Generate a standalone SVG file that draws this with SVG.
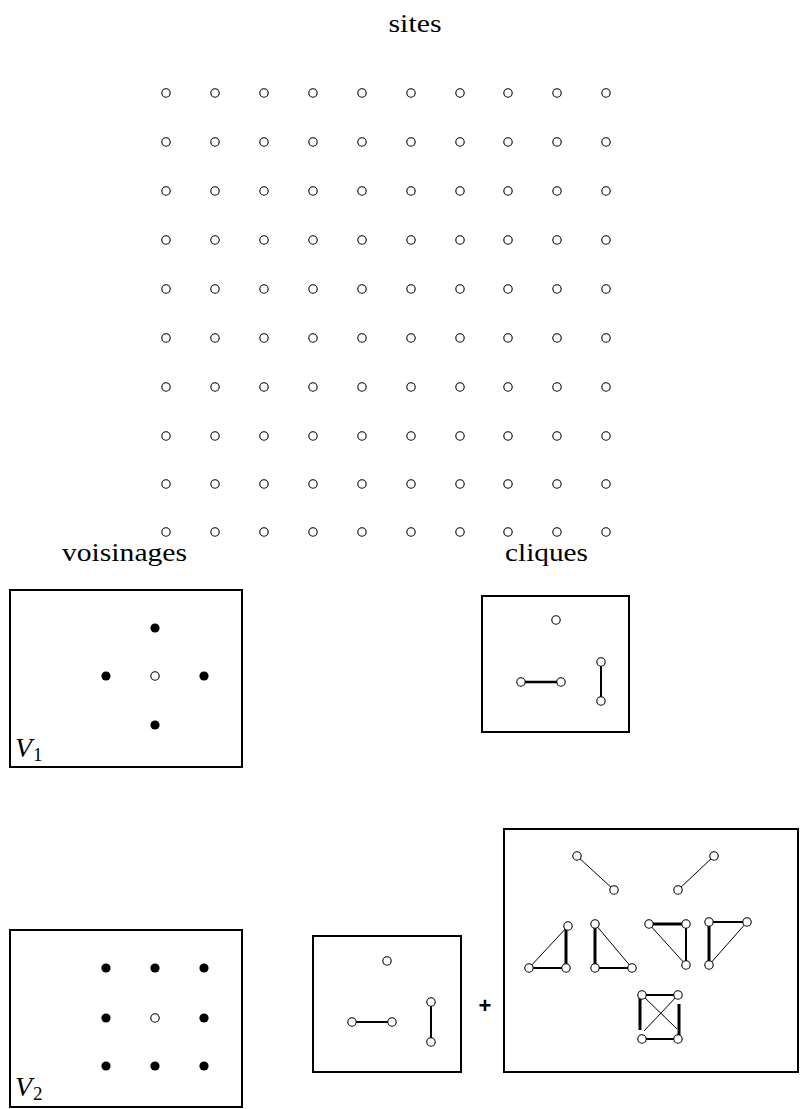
<svg xmlns="http://www.w3.org/2000/svg" width="802" height="1109" viewBox="0 0 802 1109">
<defs>
<style>
.lbl{font-family:"Liberation Serif",serif;font-weight:normal;font-size:26px;fill:#000}
.vl{font-family:"Liberation Serif",serif;font-style:italic;font-size:28px;fill:#000}
.sub{font-family:"Liberation Serif",serif;font-size:19px;fill:#000}
.box{fill:none;stroke:#000;stroke-width:2}
.o{fill:#fff;stroke:#000;stroke-width:1.1}
.f{fill:#000}
.thin{stroke:#000;stroke-width:1}
.med{stroke:#000;stroke-width:2}
.thk{stroke:#000;stroke-width:3}
</style>
<circle id="oc" r="4.2" class="o"/>
<circle id="fc" r="4.6" class="f"/>
</defs>
<rect width="802" height="1109" fill="#fff"/>

<g id="title-sites"><text class="lbl" x="415" y="32" text-anchor="middle" textLength="53" lengthAdjust="spacingAndGlyphs">sites</text></g>

<g id="grid">
<g id="row0"><use href="#oc" x="166" y="93"/><use href="#oc" x="215" y="93"/><use href="#oc" x="264" y="93"/><use href="#oc" x="313" y="93"/><use href="#oc" x="362" y="93"/><use href="#oc" x="411" y="93"/><use href="#oc" x="460" y="93"/><use href="#oc" x="508" y="93"/><use href="#oc" x="557" y="93"/><use href="#oc" x="606" y="93"/></g>
<g id="row1"><use href="#oc" x="166" y="142"/><use href="#oc" x="215" y="142"/><use href="#oc" x="264" y="142"/><use href="#oc" x="313" y="142"/><use href="#oc" x="362" y="142"/><use href="#oc" x="411" y="142"/><use href="#oc" x="460" y="142"/><use href="#oc" x="508" y="142"/><use href="#oc" x="557" y="142"/><use href="#oc" x="606" y="142"/></g>
<g id="row2"><use href="#oc" x="166" y="191"/><use href="#oc" x="215" y="191"/><use href="#oc" x="264" y="191"/><use href="#oc" x="313" y="191"/><use href="#oc" x="362" y="191"/><use href="#oc" x="411" y="191"/><use href="#oc" x="460" y="191"/><use href="#oc" x="508" y="191"/><use href="#oc" x="557" y="191"/><use href="#oc" x="606" y="191"/></g>
<g id="row3"><use href="#oc" x="166" y="240"/><use href="#oc" x="215" y="240"/><use href="#oc" x="264" y="240"/><use href="#oc" x="313" y="240"/><use href="#oc" x="362" y="240"/><use href="#oc" x="411" y="240"/><use href="#oc" x="460" y="240"/><use href="#oc" x="508" y="240"/><use href="#oc" x="557" y="240"/><use href="#oc" x="606" y="240"/></g>
<g id="row4"><use href="#oc" x="166" y="289"/><use href="#oc" x="215" y="289"/><use href="#oc" x="264" y="289"/><use href="#oc" x="313" y="289"/><use href="#oc" x="362" y="289"/><use href="#oc" x="411" y="289"/><use href="#oc" x="460" y="289"/><use href="#oc" x="508" y="289"/><use href="#oc" x="557" y="289"/><use href="#oc" x="606" y="289"/></g>
<g id="row5"><use href="#oc" x="166" y="338"/><use href="#oc" x="215" y="338"/><use href="#oc" x="264" y="338"/><use href="#oc" x="313" y="338"/><use href="#oc" x="362" y="338"/><use href="#oc" x="411" y="338"/><use href="#oc" x="460" y="338"/><use href="#oc" x="508" y="338"/><use href="#oc" x="557" y="338"/><use href="#oc" x="606" y="338"/></g>
<g id="row6"><use href="#oc" x="166" y="387"/><use href="#oc" x="215" y="387"/><use href="#oc" x="264" y="387"/><use href="#oc" x="313" y="387"/><use href="#oc" x="362" y="387"/><use href="#oc" x="411" y="387"/><use href="#oc" x="460" y="387"/><use href="#oc" x="508" y="387"/><use href="#oc" x="557" y="387"/><use href="#oc" x="606" y="387"/></g>
<g id="row7"><use href="#oc" x="166" y="436"/><use href="#oc" x="215" y="436"/><use href="#oc" x="264" y="436"/><use href="#oc" x="313" y="436"/><use href="#oc" x="362" y="436"/><use href="#oc" x="411" y="436"/><use href="#oc" x="460" y="436"/><use href="#oc" x="508" y="436"/><use href="#oc" x="557" y="436"/><use href="#oc" x="606" y="436"/></g>
<g id="row8"><use href="#oc" x="166" y="484"/><use href="#oc" x="215" y="484"/><use href="#oc" x="264" y="484"/><use href="#oc" x="313" y="484"/><use href="#oc" x="362" y="484"/><use href="#oc" x="411" y="484"/><use href="#oc" x="460" y="484"/><use href="#oc" x="508" y="484"/><use href="#oc" x="557" y="484"/><use href="#oc" x="606" y="484"/></g>
<g id="row9"><use href="#oc" x="166" y="532"/><use href="#oc" x="215" y="532"/><use href="#oc" x="264" y="532"/><use href="#oc" x="313" y="532"/><use href="#oc" x="362" y="532"/><use href="#oc" x="411" y="532"/><use href="#oc" x="460" y="532"/><use href="#oc" x="508" y="532"/><use href="#oc" x="557" y="532"/><use href="#oc" x="606" y="532"/></g>
</g>

<g id="title-voisinages"><text class="lbl" x="124.5" y="561" text-anchor="middle" textLength="125" lengthAdjust="spacingAndGlyphs">voisinages</text></g>
<g id="title-cliques"><text class="lbl" x="546.5" y="561" text-anchor="middle" textLength="83" lengthAdjust="spacingAndGlyphs">cliques</text></g>

<g id="V1">
<rect class="box" x="10" y="590" width="232" height="177"/>
<use href="#fc" x="155" y="628"/>
<use href="#fc" x="106" y="676"/>
<use href="#oc" x="155" y="676"/>
<use href="#fc" x="204" y="676"/>
<use href="#fc" x="155" y="725"/>
<text class="vl" x="15" y="757">V</text><text class="sub" x="33" y="761">1</text>
</g>

<g id="cliques1">
<rect class="box" x="482" y="596" width="147" height="136"/>
<line class="med" x1="521" y1="682" x2="561" y2="682" style="stroke-width:2.6"/>
<line class="med" x1="601" y1="662" x2="601" y2="701"/>
<use href="#oc" x="556" y="620"/>
<use href="#oc" x="521" y="682"/>
<use href="#oc" x="561" y="682"/>
<use href="#oc" x="601" y="662"/>
<use href="#oc" x="601" y="701"/>
</g>

<g id="V2">
<rect class="box" x="10" y="930" width="232" height="177"/>
<use href="#fc" x="106" y="968"/>
<use href="#fc" x="155" y="968"/>
<use href="#fc" x="204" y="968"/>
<use href="#fc" x="106" y="1018"/>
<use href="#oc" x="155" y="1018"/>
<use href="#fc" x="204" y="1018"/>
<use href="#fc" x="106" y="1066"/>
<use href="#fc" x="155" y="1066"/>
<use href="#fc" x="204" y="1066"/>
<text class="vl" x="15" y="1096">V</text><text class="sub" x="33" y="1100">2</text>
</g>

<g id="cliques2">
<rect class="box" x="313" y="936" width="148" height="136"/>
<line class="med" x1="352" y1="1022" x2="392" y2="1022"/>
<line class="med" x1="431" y1="1002" x2="431" y2="1042"/>
<use href="#oc" x="387" y="961"/>
<use href="#oc" x="352" y="1022"/>
<use href="#oc" x="392" y="1022"/>
<use href="#oc" x="431" y="1002"/>
<use href="#oc" x="431" y="1042"/>
</g>

<g id="plus"><text x="485" y="1013" text-anchor="middle" style="font-family:'Liberation Sans',sans-serif;font-weight:bold;font-size:22px">+</text></g>

<g id="cliques2-extra">
<rect class="box" x="504" y="829" width="294" height="243"/>
<g id="connectors">
<line class="thin" x1="577" y1="856" x2="614" y2="890"/>
<line class="thin" x1="714" y1="856" x2="678" y2="890"/>
<line class="thin" x1="529" y1="968" x2="568" y2="926"/>
<line class="med" x1="529" y1="968" x2="566" y2="968"/>
<line class="thk" x1="566" y1="928" x2="566" y2="968"/>
<line class="thk" x1="595" y1="924" x2="595" y2="968"/>
<line class="med" x1="595" y1="968" x2="632" y2="968"/>
<line class="thin" x1="595" y1="924" x2="632" y2="968"/>
<line class="thk" x1="649" y1="924" x2="686" y2="924"/>
<line class="med" x1="686" y1="924" x2="686" y2="965"/>
<line class="thin" x1="649" y1="924" x2="686" y2="965"/>
<line class="med" x1="709" y1="922" x2="747" y2="922"/>
<line class="thk" x1="709" y1="922" x2="709" y2="965"/>
<line class="thin" x1="747" y1="922" x2="709" y2="965"/>
<line class="med" x1="642" y1="995" x2="678" y2="995"/>
<line class="med" x1="642" y1="1039" x2="678" y2="1039"/>
<line class="thk" x1="640" y1="995" x2="640" y2="1030"/>
<line class="thk" x1="679" y1="1004" x2="679" y2="1039"/>
<line class="thin" x1="642" y1="995" x2="677" y2="1029"/>
<line class="thin" x1="678" y1="995" x2="644" y2="1031"/>
</g>
<use href="#oc" x="577" y="856"/>
<use href="#oc" x="614" y="890"/>
<use href="#oc" x="714" y="856"/>
<use href="#oc" x="678" y="890"/>
<use href="#oc" x="568" y="926"/>
<use href="#oc" x="529" y="968"/>
<use href="#oc" x="566" y="968"/>
<use href="#oc" x="595" y="924"/>
<use href="#oc" x="595" y="968"/>
<use href="#oc" x="632" y="968"/>
<use href="#oc" x="649" y="924"/>
<use href="#oc" x="686" y="924"/>
<use href="#oc" x="686" y="965"/>
<use href="#oc" x="709" y="922"/>
<use href="#oc" x="747" y="922"/>
<use href="#oc" x="709" y="965"/>
<use href="#oc" x="642" y="995"/>
<use href="#oc" x="678" y="995"/>
<use href="#oc" x="642" y="1039"/>
<use href="#oc" x="678" y="1039"/>
</g>
</svg>
